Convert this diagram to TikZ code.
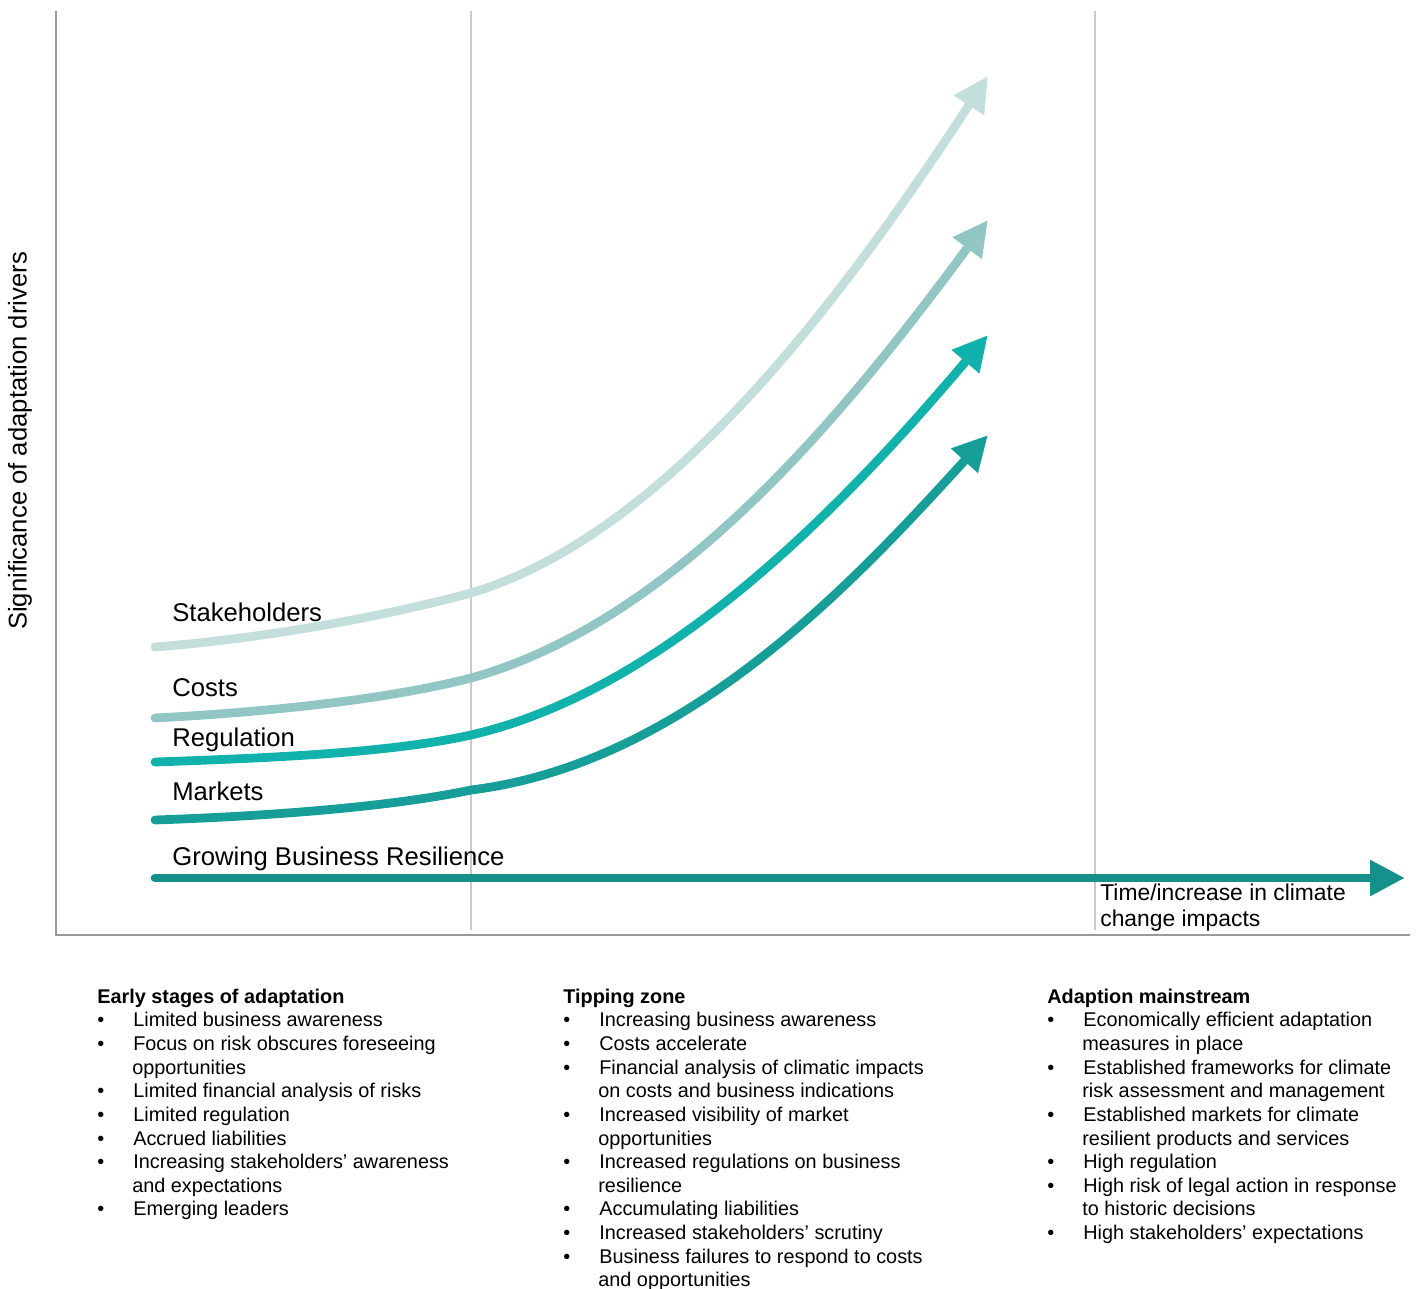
\documentclass[tikz,border=0pt]{standalone}
\usepackage{fontspec}
\setmainfont{Liberation Sans}
\usepackage{tikz}
\usetikzlibrary{arrows.meta}

\definecolor{stkcol}{HTML}{C4DEDC}
\definecolor{cstcol}{HTML}{92C6C4}
\definecolor{regcol}{HTML}{12B2AC}
\definecolor{mktcol}{HTML}{179E99}
\definecolor{grwcol}{HTML}{15908B}
\definecolor{axiscol}{HTML}{9A9A9A}
\definecolor{sepcol}{HTML}{CACACA}

\newcommand{\bul}{\makebox[0.72cm][l]{\textbullet}}
\newcommand{\cont}{\hspace*{0.7cm}}

\tikzset{
  driver/.style={line width=5pt, line cap=round,
    -{Triangle[length=0.7cm, width=0.68cm]}},
  curvelabel/.style={anchor=base west, inner sep=0pt,
    font=\fontsize{14.6pt}{17pt}\selectfont},
  stagelist/.style={anchor=north west, inner sep=0pt, align=left,
    font=\fontsize{11.3pt}{13.45pt}\selectfont},
}

\begin{document}
\begin{tikzpicture}[x=0.02cm, y=-0.02cm]
    \useasboundingbox (0,0) rectangle (1416,1288);

    % axes and zone separators
    \draw[axiscol, line width=1.2pt] (56,11) -- (56,935) -- (1410,935);
    \draw[sepcol, line width=1pt] (471,11) -- (471,930);
    \draw[sepcol, line width=1pt] (1095,11) -- (1095,930);

    \node[rotate=90, inner sep=0pt, font=\fontsize{14.6pt}{17pt}\selectfont] (ylab) at (20,441) {Significance of adaptation drivers};

    % driver curves
    \coordinate (stk0) at (155,647);
    \coordinate (stk1) at (471,593);
    \coordinate (stk2) at (988,76);
    \coordinate (cst0) at (155,718);
    \coordinate (cst1) at (471,678);
    \coordinate (cst2) at (988,220);
    \coordinate (reg0) at (155,762);
    \coordinate (reg1) at (471,735);
    \coordinate (reg2) at (988,335);
    \coordinate (mkt0) at (155,820);
    \coordinate (mkt1) at (471,790);
    \coordinate (mkt2) at (988,435);
    \coordinate (grw0) at (155,878);
    \coordinate (grw1) at (1405,878);

    \draw[driver, stkcol] (stk0) .. controls (270,638) and (390,615) .. (stk1) .. controls (671,533) and (848,290) .. (stk2);
    \draw[driver, cstcol] (cst0) .. controls (270,712) and (390,699) .. (cst1) .. controls (680,620) and (851,405) .. (cst2);
    \draw[driver, regcol] (reg0) .. controls (270,758) and (390,753) .. (reg1) .. controls (671,689) and (851,497) .. (reg2);
    \draw[driver, mktcol] (mkt0) .. controls (270,816) and (390,807) .. (mkt1) .. controls (690,763) and (860,575) .. (mkt2);
    \draw[driver, grwcol] (grw0) -- (grw1);

    \node[curvelabel] (stklab) at (172,621) {Stakeholders};
    \node[curvelabel] (cstlab) at (172,696) {Costs};
    \node[curvelabel] (reglab) at (172,746) {Regulation};
    \node[curvelabel] (mktlab) at (172,800) {Markets};
    \node[curvelabel] (grwlab) at (172,865) {Growing Business Resilience};

    \node[anchor=north west, inner sep=0pt, align=left, font=\fontsize{13pt}{14.7pt}\selectfont] (timelab) at (1100,884) {Time/increase in climate\\change impacts};

    % stage descriptions
    \node[stagelist] (early) at (97,988.5) {\textbf{Early stages of adaptation}\\
        \bul Limited business awareness\\
        \bul Focus on risk obscures foreseeing\\
        \cont opportunities\\
        \bul Limited financial analysis of risks\\
        \bul Limited regulation\\
        \bul Accrued liabilities\\
        \bul Increasing stakeholders’ awareness\\
        \cont and expectations\\
        \bul Emerging leaders};
    \node[stagelist] (tipping) at (563,988.5) {\textbf{Tipping zone}\\
        \bul Increasing business awareness\\
        \bul Costs accelerate\\
        \bul Financial analysis of climatic impacts\\
        \cont on costs and business indications\\
        \bul Increased visibility of market\\
        \cont opportunities\\
        \bul Increased regulations on business\\
        \cont resilience\\
        \bul Accumulating liabilities\\
        \bul Increased stakeholders’ scrutiny\\
        \bul Business failures to respond to costs\\
        \cont and opportunities};
    \node[stagelist] (mainstream) at (1047,988.5) {\textbf{Adaption mainstream}\\
        \bul Economically efficient adaptation\\
        \cont measures in place\\
        \bul Established frameworks for climate\\
        \cont risk assessment and management\\
        \bul Established markets for climate\\
        \cont resilient products and services\\
        \bul High regulation\\
        \bul High risk of legal action in response\\
        \cont to historic decisions\\
        \bul High stakeholders’ expectations};
\end{tikzpicture}
\end{document}
